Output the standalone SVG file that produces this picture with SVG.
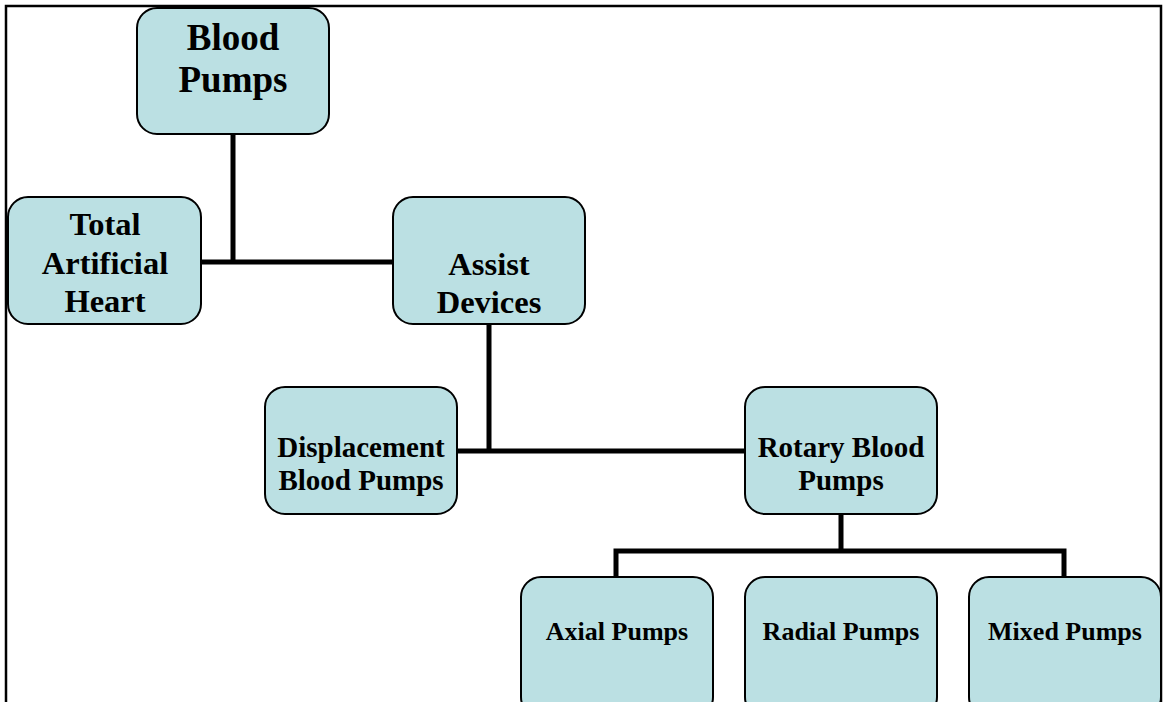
<svg xmlns="http://www.w3.org/2000/svg" width="1163" height="702" viewBox="0 0 1163 702">
<style>
.box{fill:#bbe0e3;stroke:#000;stroke-width:2}
.t{font-family:"Liberation Serif","Times New Roman",serif;font-weight:bold;fill:#000;text-anchor:middle}
.c{stroke:#000;stroke-width:5;fill:none}
</style>
<rect width="1163" height="702" fill="#fff"/>
<path d="M6,702 V6 H1161 V702" fill="none" stroke="#000" stroke-width="2.5"/>
<g id="connectors">
<path class="c" d="M233,134 V262 M201,262 H393"/>
<path class="c" d="M489,324 V451 M457,451 H745"/>
<path class="c" d="M841,514 V551 M616,577 V551 H1064 V577"/>
</g>
<g id="blood-pumps"><rect class="box" x="137" y="8" width="192" height="126" rx="20"/>
<text class="t" font-size="37" x="233" y="50">Blood</text><text class="t" font-size="37" x="233" y="92">Pumps</text></g>
<g id="tah"><rect class="box" x="8" y="197" width="193" height="127" rx="20"/>
<text class="t" font-size="32.5" x="105" y="235">Total</text><text class="t" font-size="32.5" x="105" y="274">Artificial</text><text class="t" font-size="32.5" x="105" y="312">Heart</text></g>
<g id="assist"><rect class="box" x="393" y="197" width="192" height="127" rx="20"/>
<text class="t" font-size="32.5" x="489" y="275">Assist</text><text class="t" font-size="32.5" x="489" y="313">Devices</text></g>
<g id="displacement"><rect class="box" x="265" y="387" width="192" height="127" rx="20"/>
<text class="t" font-size="29" x="361" y="457">Displacement</text><text class="t" font-size="29" x="361" y="490">Blood Pumps</text></g>
<g id="rotary"><rect class="box" x="745" y="387" width="192" height="127" rx="20"/>
<text class="t" font-size="29" x="841" y="457">Rotary Blood</text><text class="t" font-size="29" x="841" y="490">Pumps</text></g>
<g id="axial"><rect class="box" x="521" y="577" width="192" height="140" rx="20"/>
<text class="t" font-size="26" x="617" y="640">Axial Pumps</text></g>
<g id="radial"><rect class="box" x="745" y="577" width="192" height="140" rx="20"/>
<text class="t" font-size="26" x="841" y="640">Radial Pumps</text></g>
<g id="mixed"><rect class="box" x="969" y="577" width="192" height="140" rx="20"/>
<text class="t" font-size="26" x="1065" y="640">Mixed Pumps</text></g>
</svg>
